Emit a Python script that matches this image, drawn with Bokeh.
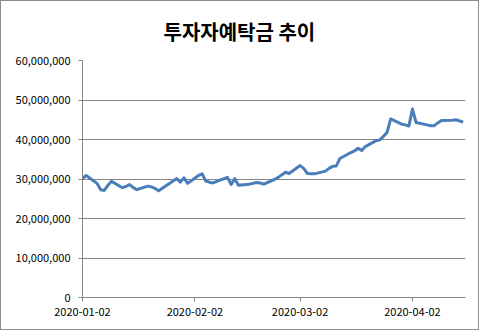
import pandas as pd
from bokeh.plotting import figure
from bokeh.models import NumeralTickFormatter, DatetimeTickFormatter, FixedTicker, Range1d, ColumnDataSource
from bokeh.embed import file_html
from bokeh.resources import INLINE

title_text = "투자자예탁금 추이"

dates = [
    "2020-01-02", "2020-01-03", "2020-01-06", "2020-01-07", "2020-01-08", "2020-01-09", "2020-01-10",
    "2020-01-13", "2020-01-14", "2020-01-15", "2020-01-16", "2020-01-17",
    "2020-01-20", "2020-01-21", "2020-01-22", "2020-01-23",
    "2020-01-28", "2020-01-29", "2020-01-30", "2020-01-31",
    "2020-02-03", "2020-02-04", "2020-02-05", "2020-02-06", "2020-02-07",
    "2020-02-10", "2020-02-11", "2020-02-12", "2020-02-13", "2020-02-14",
    "2020-02-17", "2020-02-18", "2020-02-19", "2020-02-20", "2020-02-21",
    "2020-02-24", "2020-02-25", "2020-02-26", "2020-02-27", "2020-02-28",
    "2020-03-02", "2020-03-03", "2020-03-04", "2020-03-05", "2020-03-06",
    "2020-03-09", "2020-03-10", "2020-03-11", "2020-03-12", "2020-03-13",
    "2020-03-16", "2020-03-17", "2020-03-18", "2020-03-19", "2020-03-20",
    "2020-03-23", "2020-03-24", "2020-03-25", "2020-03-26", "2020-03-27",
    "2020-03-30", "2020-03-31", "2020-04-01", "2020-04-02", "2020-04-03",
    "2020-04-06", "2020-04-07", "2020-04-08", "2020-04-09", "2020-04-10",
    "2020-04-13", "2020-04-14", "2020-04-16",
]

deposits = [
    30100000, 30900000, 28900000, 27300000, 27100000, 28400000, 29400000,
    27800000, 28100000, 28600000, 27800000, 27300000,
    28200000, 28000000, 27600000, 27000000,
    30100000, 29200000, 30300000, 28900000,
    30900000, 31300000, 29500000, 29200000, 29000000,
    30100000, 30400000, 28600000, 30100000, 28400000,
    28700000, 28900000, 29100000, 29000000, 28700000,
    29900000, 30400000, 31100000, 31700000, 31400000,
    33400000, 32700000, 31400000, 31300000, 31300000,
    32000000, 32700000, 33200000, 33300000, 35200000,
    36700000, 37100000, 37800000, 37200000, 38200000,
    39700000, 39900000, 40800000, 41800000, 45200000,
    43900000, 43700000, 43400000, 47700000, 44300000,
    43700000, 43500000, 43500000, 44200000, 44800000,
    44900000, 45000000, 44400000,
]

tick_dates = ["2020-01-02", "2020-02-02", "2020-03-02", "2020-04-02"]
y_ticks = [0, 10000000, 20000000, 30000000, 40000000, 50000000, 60000000]

def ms(s):
    return pd.Timestamp(s).value // 10**6

src = ColumnDataSource(dict(x=pd.to_datetime(dates), y=deposits))

x0 = ms("2020-01-02")
day = 86400000
x1 = x0 + int(105.63 * day)

p = figure(width=479, height=330, output_backend="svg", toolbar_location=None,
           x_axis_type="datetime",
           x_range=Range1d(x0, x1), y_range=Range1d(0, 60000000),
           min_border_left=81, min_border_right=15, min_border_top=59, min_border_bottom=34)
p.styles = {"border": "1px solid #8c8c8c"}
p.outline_line_color = None
p.background_fill_color = "white"
p.border_fill_color = "white"

p.title.text = title_text
p.title.text_font = "Noto Sans CJK KR"
p.title.text_font_size = "20px"
p.title.text_font_style = "bold"
p.title.text_color = "black"
p.title.align = "left"
p.title.offset = 81
p.title.vertical_align = "top"
p.title.standoff = 26

p.line("x", "y", source=src, line_color="#4a7ebb", line_width=3, line_join="round")

p.xgrid.visible = False
p.ygrid.grid_line_color = "#868686"
p.ygrid.grid_line_width = 1

for ax in (p.xaxis[0], p.yaxis[0]):
    ax.axis_line_color = "#868686"
    ax.major_tick_line_color = "#868686"
    ax.major_tick_out = 4
    ax.major_tick_in = 0
    ax.minor_tick_line_color = None
    ax.major_label_text_font = "Noto Sans CJK KR"
    ax.major_label_text_font_size = "11px"
    ax.major_label_text_color = "black"

p.yaxis[0].ticker = FixedTicker(ticks=y_ticks)
p.yaxis[0].formatter = NumeralTickFormatter(format="0,0")
p.yaxis[0].major_label_standoff = 8

p.xaxis[0].ticker = FixedTicker(ticks=[ms(d) for d in tick_dates])
fmt = "%Y-%m-%d"
p.xaxis[0].formatter = DatetimeTickFormatter(milliseconds=fmt, seconds=fmt, minsec=fmt, minutes=fmt,
                                             hourmin=fmt, hours=fmt, days=fmt, months=fmt, years=fmt)
p.xaxis[0].major_label_standoff = 6

open("out.html", "w").write(file_html(p, INLINE))
